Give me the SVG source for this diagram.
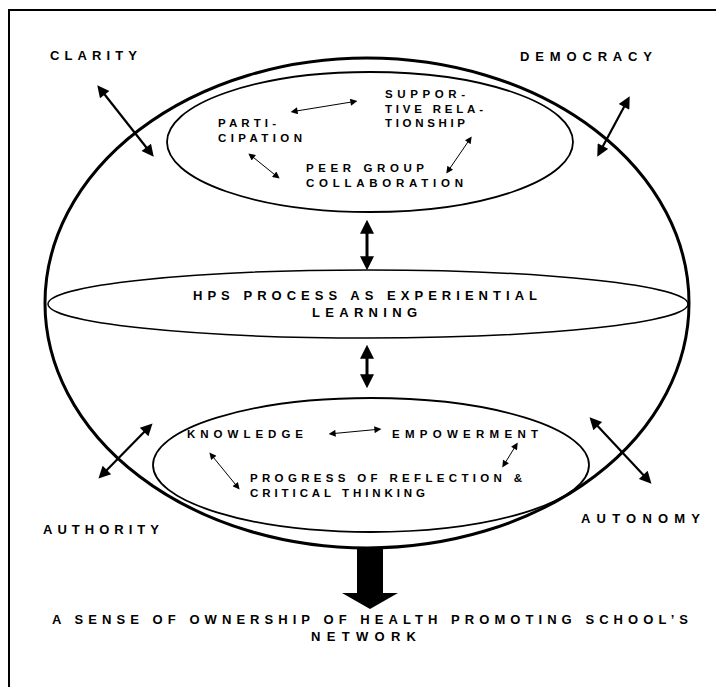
<svg xmlns="http://www.w3.org/2000/svg" width="716" height="687" viewBox="0 0 716 687">
<style>
  .t{font-family:"Liberation Sans",Arial,sans-serif;font-weight:bold;font-size:13px;fill:#000}
  .s{font-size:11.5px}
  .e{fill:none;stroke:#000}
  .c{stroke:#000;fill:none}
  .thick{stroke-width:2.2;marker-start:url(#hb);marker-end:url(#hb)}
  .vert{stroke-width:3;marker-start:url(#hv);marker-end:url(#hv)}
  .thin{stroke-width:1;marker-start:url(#hs);marker-end:url(#hs)}
</style>
<defs>
  <marker id="hb" viewBox="0 0 10 10" refX="7" refY="5" markerWidth="14" markerHeight="12" markerUnits="userSpaceOnUse" orient="auto-start-reverse"><path d="M0,0L10,5L0,10z"/></marker>
  <marker id="hv" viewBox="0 0 10 10" refX="7" refY="5" markerWidth="14" markerHeight="14" markerUnits="userSpaceOnUse" orient="auto-start-reverse"><path d="M0,0L10,5L0,10z"/></marker>
  <marker id="hs" viewBox="0 0 10 10" refX="7" refY="5" markerWidth="9" markerHeight="7" markerUnits="userSpaceOnUse" orient="auto-start-reverse"><path d="M0,0L10,5L0,10z"/></marker>
</defs>
<rect width="716" height="687" fill="#fff"/>
<rect x="9" y="10" width="740" height="720" fill="none" stroke="#000" stroke-width="2"/>

<g id="outer"><ellipse class="e" cx="367" cy="303" rx="322" ry="245" stroke-width="3"/></g>

<g id="top-group">
  <ellipse class="e" cx="370" cy="142" rx="203" ry="70" stroke-width="1.8"/>
  <g id="participation"><text class="t s" x="218" y="127" textLength="58" lengthAdjust="spacing">PARTI-</text><text class="t s" x="218" y="142" textLength="84" lengthAdjust="spacing">CIPATION</text></g>
  <g id="supportive"><text class="t s" x="385" y="98" textLength="80" lengthAdjust="spacing">SUPPOR-</text><text class="t s" x="385" y="113" textLength="98" lengthAdjust="spacing">TIVE RELA-</text><text class="t s" x="385" y="127" textLength="80" lengthAdjust="spacing">TIONSHIP</text></g>
  <g id="peer"><text class="t s" x="306" y="172" textLength="118" lengthAdjust="spacing">PEER GROUP</text><text class="t s" x="306" y="187" textLength="157" lengthAdjust="spacing">COLLABORATION</text></g>
</g>

<g id="hps">
  <ellipse class="e" cx="368" cy="304" rx="320" ry="34" stroke-width="1.5"/>
  <text class="t" x="193" y="300" textLength="344" lengthAdjust="spacing">HPS PROCESS AS EXPERIENTIAL</text>
  <text class="t" x="312" y="317" textLength="105" lengthAdjust="spacing">LEARNING</text>
</g>

<g id="bottom-group">
  <ellipse class="e" cx="371" cy="465" rx="218" ry="67" stroke-width="1.8"/>
  <g id="knowledge"><text class="t s" x="187" y="438" textLength="116" lengthAdjust="spacing">KNOWLEDGE</text></g>
  <g id="empowerment"><text class="t s" x="392" y="438" textLength="146" lengthAdjust="spacing">EMPOWERMENT</text></g>
  <g id="reflection"><text class="t s" x="250" y="482" textLength="272" lengthAdjust="spacing">PROGRESS OF REFLECTION &amp;</text><text class="t s" x="250" y="497" textLength="175" lengthAdjust="spacing">CRITICAL THINKING</text></g>
</g>

<g id="clarity"><text class="t" x="50" y="60" textLength="87" lengthAdjust="spacing">CLARITY</text></g>
<g id="democracy"><text class="t" x="520" y="61" textLength="132" lengthAdjust="spacing">DEMOCRACY</text></g>
<g id="authority"><text class="t" x="43" y="534" textLength="116" lengthAdjust="spacing">AUTHORITY</text></g>
<g id="autonomy"><text class="t" x="581" y="523" textLength="119" lengthAdjust="spacing">AUTONOMY</text></g>

<g id="ownership">
  <text class="t" x="52" y="624" textLength="636" lengthAdjust="spacing">A SENSE OF OWNERSHIP OF HEALTH PROMOTING SCHOOL’S</text>
  <text class="t" x="311" y="641" textLength="105" lengthAdjust="spacing">NETWORK</text>
</g>

<g id="connectors">
  <line class="c thick" x1="99.5" y1="88" x2="151.5" y2="154"/>
  <line class="c thick" x1="628" y1="99.5" x2="599" y2="153.5"/>
  <line class="c thick" x1="150" y1="426" x2="101" y2="476"/>
  <line class="c thick" x1="592" y1="420" x2="649" y2="481"/>
  <line class="c vert" x1="367" y1="224" x2="367" y2="266"/>
  <line class="c vert" x1="367" y1="349" x2="367" y2="384"/>
  <line class="c thin" x1="292.7" y1="111.6" x2="355.3" y2="101.4"/>
  <line class="c thin" x1="250" y1="154.7" x2="278" y2="177.3"/>
  <line class="c thin" x1="470.5" y1="138.2" x2="447.5" y2="171.8"/>
  <line class="c thin" x1="330.7" y1="433.8" x2="379.3" y2="429.2"/>
  <line class="c thin" x1="210.7" y1="454.1" x2="238.3" y2="487.9"/>
  <line class="c thin" x1="516.6" y1="444.3" x2="503.4" y2="465.7"/>
  <polygon points="357,547 383,547 383,593 398,593 370,609 342,593 357,593" fill="#000"/>
</g>
</svg>
